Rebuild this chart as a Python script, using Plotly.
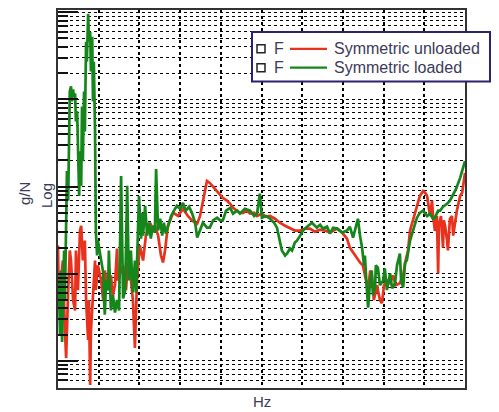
import plotly.graph_objects as go

# Frequency response magnitude, two configurations (g/N vs Hz)
unloaded_hz = [0, 2, 7, 12, 17, 20, 25, 29, 32, 37, 42, 44, 49, 54, 57, 61, 64, 66, 69, 74, 76, 79, 81, 86, 91, 93, 98,
               106, 111, 115, 123, 130, 135, 140, 145, 147, 152, 160, 167, 172, 177, 184, 189, 194, 201, 209, 216, 226,
               233, 238, 246, 253, 258, 263, 270, 283, 295, 307, 319, 329, 337,
               342, 349, 354, 361, 366, 373, 381, 391, 398, 405, 415, 423, 430, 440, 447, 455, 464, 472, 482, 489,
               501, 511, 521, 533, 545, 558, 570, 582, 595, 607, 619, 631, 644, 656, 668, 686, 698, 710, 717, 725,
               735, 742, 749, 757, 762, 767, 771, 776, 779, 784, 786, 791, 796, 801, 808, 816, 823, 830, 840, 848,
               853, 860, 865, 872, 882, 889, 897, 902, 907, 914, 919, 921, 926, 931, 934, 936, 941, 946, 948, 951,
               956, 958, 963, 968, 971, 975, 980, 988, 993, 1000]
unloaded_gn = [0.0211, 0.0050, 0.0084, 0.0142, 0.00226, 0.00108, 0.0065, 0.0185, 0.0142, 0.0050, 0.0038, 0.0185,
               0.0065, 0.0313, 0.0356, 0.0142, 0.0211, 0.024, 0.0050, 0.00174, 0.0050, 0.00053, 0.00226, 0.0050,
               0.0142, 0.0065, 0.0125, 0.0084, 0.0050, 0.0109, 0.0065, 0.0096, 0.0057, 0.0074, 0.0195, 0.0084,
               0.0096, 0.0125, 0.0065, 0.0135, 0.0109, 0.0050, 0.00141, 0.0084, 0.0211, 0.0142, 0.0274, 0.0385,
               0.033, 0.0356, 0.0274, 0.0162, 0.0135, 0.0185, 0.0356, 0.050, 0.046, 0.0557, 0.046, 0.041, 0.0385,
               0.0376, 0.046, 0.060, 0.094, 0.116, 0.110, 0.099, 0.089, 0.080, 0.074, 0.069, 0.0635, 0.057, 0.053,
               0.050, 0.050, 0.053, 0.049, 0.050, 0.046, 0.049, 0.045, 0.046, 0.0428, 0.0385, 0.0356, 0.033, 0.0313,
               0.0313, 0.033, 0.033, 0.0304, 0.032, 0.0313, 0.0297, 0.033, 0.0297, 0.0253, 0.020, 0.0175, 0.015,
               0.0135, 0.0125, 0.0084, 0.0065, 0.0109, 0.0096, 0.0050, 0.0057, 0.0074, 0.0065, 0.0050, 0.0046,
               0.0074, 0.0084, 0.0078, 0.0096, 0.0074, 0.0078, 0.0096, 0.0135, 0.0185, 0.0313, 0.041, 0.060, 0.078,
               0.089, 0.085, 0.078, 0.046, 0.069, 0.049, 0.031, 0.046, 0.0101, 0.0356, 0.046, 0.020, 0.041, 0.0356,
               0.024, 0.0185, 0.0428, 0.046, 0.0274, 0.0356, 0.053, 0.078, 0.085, 0.143]

loaded_hz = [0, 2, 5, 7, 10, 12, 15, 17, 20, 22, 25, 27, 29, 32, 34, 37, 39, 42, 44, 47, 49, 52, 54, 57, 59, 61, 64,
             66, 69, 71, 74, 76, 79, 81, 84, 86, 88, 91, 93, 96, 98,
             106, 111, 113, 115, 118, 123, 125, 128, 130, 135, 140, 145, 150, 155, 160, 165, 170, 174, 179, 184,
             189, 192, 199, 204, 206, 209, 214, 219, 224, 228, 233, 238, 241, 246, 251, 256, 260, 265, 270, 278,
             285, 292, 300, 307, 314, 322, 329, 337,
             342, 349, 356, 366, 373, 381, 391, 398, 405, 413, 423, 430, 440, 447, 459, 472, 482, 489, 496, 501,
             511, 521, 531, 538, 545, 550, 558, 563, 570, 575, 582, 587, 595, 602, 612, 624, 636, 644, 651, 661,
             668, 676, 686, 698, 710, 717, 725, 732, 737, 742, 747, 752, 754, 759, 762, 767, 771, 774, 779, 781,
             786, 791, 799, 803, 808, 816, 821, 828, 833, 840, 843, 848, 853, 857, 865, 870, 877, 882, 889, 897,
             907, 914, 921, 926, 934, 939, 946, 956, 963, 971, 978, 988, 995, 1000]
loaded_gn = [0.0050, 0.0084, 0.0020, 0.0109, 0.00165, 0.0065, 0.0185, 0.0050, 0.041, 0.151, 0.069, 0.43, 1.23,
             1.41, 0.95, 1.30, 1.08, 1.17, 0.56, 0.73, 0.196, 0.078, 0.255, 0.102, 0.83, 0.196, 1.23, 0.43, 4.59,
             2.71, 9.56, 4.59, 5.96, 2.09, 5.23, 0.95, 2.71, 0.43, 0.0313, 0.0162, 0.024,
             0.0142, 0.0104, 0.0050, 0.0034, 0.0084, 0.0065, 0.0185, 0.0050, 0.0038, 0.0057, 0.0036, 0.0050,
             0.0038, 0.132, 0.0052, 0.0065, 0.102, 0.0084, 0.0185, 0.0061, 0.0142, 0.0061, 0.078, 0.0253, 0.050,
             0.0274, 0.060, 0.0274, 0.0385, 0.0253, 0.0356, 0.0297, 0.159, 0.0313, 0.0428, 0.0274, 0.0385,
             0.0289, 0.0356, 0.046, 0.053, 0.060, 0.0557, 0.065, 0.053, 0.0587, 0.050, 0.0385,
             0.026, 0.0313, 0.0385, 0.0338, 0.0338, 0.041, 0.044, 0.041, 0.041, 0.053, 0.057, 0.049, 0.053, 0.049,
             0.0557, 0.053, 0.046, 0.049, 0.083, 0.044, 0.046, 0.0428, 0.0385, 0.0338, 0.024, 0.0185, 0.0162,
             0.0171, 0.0195, 0.0185, 0.0228, 0.024, 0.0274, 0.0313, 0.0347, 0.0385, 0.0338, 0.0366, 0.033, 0.0347,
             0.0289, 0.0338, 0.033, 0.0297, 0.0313, 0.0347, 0.026, 0.0347, 0.0428, 0.0274, 0.020, 0.0125, 0.0162,
             0.0065, 0.0041, 0.0084, 0.0109, 0.0057, 0.0070, 0.0125, 0.0118, 0.0074, 0.0084, 0.0115, 0.0065,
             0.0101, 0.0068, 0.0078, 0.0125, 0.0171, 0.0084, 0.0070, 0.0135, 0.0142, 0.024, 0.0289, 0.0385, 0.044,
             0.050, 0.053, 0.046, 0.049, 0.0428, 0.044, 0.053, 0.053, 0.0587, 0.0635, 0.069, 0.083, 0.094, 0.126,
             0.159, 0.196]

series_names = ["Symmetric unloaded", "Symmetric loaded"]
series_colors = ["#e8321e", "#15861a"]
legend_prefix = "F"

W, H = 499, 412
ML, MR, MT, MB = 58, 34, 8, 24
PW, PH = W - ML - MR, H - MT - MB
Y_LO, Y_HI = 0.00049, 10.6

def px_x(px):
    return (px - ML) / PW

def px_y(py):
    return (H - MB - py) / PH

fig = go.Figure()
for hz, gn, name, color in [(unloaded_hz, unloaded_gn, series_names[0], series_colors[0]),
                            (loaded_hz, loaded_gn, series_names[1], series_colors[1])]:
    fig.add_trace(go.Scatter(x=hz, y=gn, mode="lines", name=name,
                             line=dict(color=color, width=2.7), showlegend=False))

decades = [0.001, 0.01, 0.1, 1, 10]
minor_vals = [m * d for d in [0.0001] + decades for m in range(2, 10)
              if Y_LO <= m * d <= Y_HI]

grid_dash = "3px,3px"
grid_color = "#000"
fig.update_xaxes(range=[0, 1000], dtick=100, tick0=0, showticklabels=False, ticks="",
                 showgrid=True, gridcolor=grid_color, gridwidth=1.5, griddash=grid_dash,
                 showline=True, mirror=True, linecolor="#333", linewidth=2, zeroline=False)
fig.update_yaxes(type="log", range=[-3.3098, 1.0253],
                 tickmode="array", tickvals=decades, showticklabels=False,
                 ticks="inside", ticklen=20, tickwidth=1.5, tickcolor="#111",
                 showgrid=True, gridcolor=grid_color, gridwidth=1.3, griddash=grid_dash,
                 minor=dict(tickmode="array", tickvals=minor_vals, ticks="inside", ticklen=10,
                            tickwidth=1.5, tickcolor="#111", showgrid=True, gridcolor=grid_color,
                            gridwidth=1.3, griddash=grid_dash),
                 showline=True, mirror=True, linecolor="#333", linewidth=2, zeroline=False)

text_color = "#3b3a58"
font_family = "Liberation Sans, Arial, sans-serif"

def label(text, px, py, size, anchor="center", angle=0):
    return dict(text=text, x=px_x(px), y=px_y(py), xref="paper", yref="paper", showarrow=False,
                xanchor=anchor, yanchor="middle", textangle=angle,
                font=dict(size=size, color=text_color, family=font_family))

annotations = [
    label("Hz", 262, 402, 15),
    label("g/N", 24, 193, 15, angle=-90),
    label("Log", 46, 195, 15, angle=-90),
]

shapes = [dict(type="rect", xref="paper", yref="paper", x0=px_x(252), x1=px_x(490),
               y0=px_y(80), y1=px_y(30), fillcolor="white", line=dict(color="#2b2370", width=2),
               layer="above")]

row_y = [47, 66]
for i, (name, color) in enumerate(zip(series_names, series_colors)):
    ry = row_y[i]
    shapes.append(dict(type="rect", xref="paper", yref="paper", x0=px_x(257), x1=px_x(265),
                       y0=px_y(ry + 4), y1=px_y(ry - 4), line=dict(color="#222", width=1.5),
                       fillcolor="white", layer="above"))
    shapes.append(dict(type="line", xref="paper", yref="paper", x0=px_x(290), x1=px_x(327),
                       y0=px_y(ry), y1=px_y(ry), line=dict(color=color, width=2.2), layer="above"))
    annotations.append(label(legend_prefix, 272, ry, 16, anchor="left"))
    annotations.append(label(name, 332, ry, 16, anchor="left"))

fig.update_layout(width=W, height=H, margin=dict(l=ML, r=MR, t=MT, b=MB),
                  paper_bgcolor="white", plot_bgcolor="white",
                  shapes=shapes, annotations=annotations, showlegend=False)

fig.write_html("out.html")
